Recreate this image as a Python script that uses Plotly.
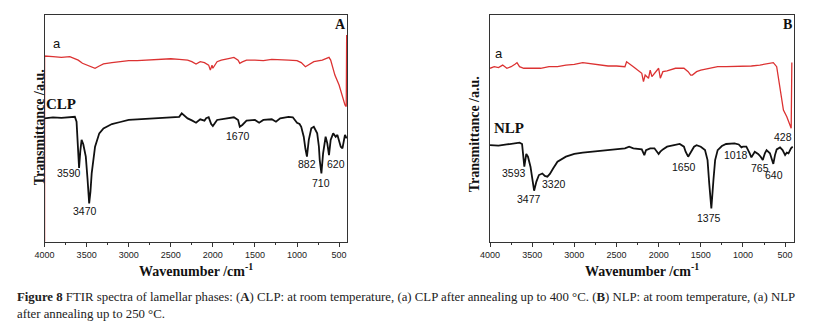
import plotly.graph_objects as go

# ---------------- Panel A (CLP) ----------------
clp_wn = [4000, 3900, 3800, 3700, 3640, 3620, 3600, 3590, 3575, 3560, 3540, 3510, 3490, 3470, 3455,
          3440, 3400, 3350, 3300, 3200, 3100, 3000, 2900, 2800, 2700, 2600, 2500, 2400, 2370, 2300,
          2250, 2200, 2150, 2100, 2080, 2050, 2020, 2000, 1950, 1900, 1800, 1750, 1700, 1680, 1650,
          1600, 1500, 1450, 1400, 1300, 1250, 1200, 1100, 1050, 1000, 970, 950, 920, 900, 882,
          860, 830, 800, 760, 740, 730, 710, 690, 660, 640, 620, 600, 570, 540, 520, 500, 480,
          460, 430, 410]
clp_t = [54.4, 54.8, 54.6, 55.1, 55.1, 52.9, 42.0, 32.5, 40.0, 44.9, 43.0, 37.5, 28.0, 16.9, 22.0,
         30.1, 41.9, 47.8, 50.0, 51.9, 52.8, 53.7, 54.0, 54.2, 54.4, 54.6, 54.8, 55.1, 56.6, 54.4,
         53.5, 52.5, 54.0, 53.4, 54.5, 54.9, 51.9, 51.0, 53.7, 54.0, 54.4, 54.9, 53.7, 50.7, 51.5,
         53.4, 53.7, 52.5, 53.7, 54.0, 52.9, 54.4, 55.1, 54.9, 52.5, 51.9, 50.7, 46.3, 41.0, 37.5,
         44.9, 50.0, 50.7, 47.8, 42.0, 36.0, 30.1, 39.0, 46.3, 43.4, 38.2, 44.9, 47.8, 46.3, 47.1,
         45.0, 41.9, 41.2, 47.1, 45.6]

clp_a_wn = [4000, 4000, 3900, 3800, 3700, 3650, 3600, 3550, 3500, 3450, 3400, 3350, 3300, 3200, 3100,
            3000, 2900, 2800, 2700, 2600, 2500, 2400, 2300, 2250, 2200, 2150, 2100, 2050, 2030, 2010,
            2000, 1950, 1900, 1800, 1750, 1700, 1680, 1650, 1600, 1500, 1400, 1300, 1200, 1100, 1000,
            950, 900, 850, 800, 700, 620, 600, 580, 550, 500, 460, 430, 415, 410]
clp_a_t = [0.0, 81.9, 81.6, 81.3, 81.6, 80.9, 80.1, 78.7, 77.9, 77.2, 76.5, 77.5, 78.4, 79.0, 79.4,
           79.9, 79.9, 80.1, 80.4, 80.4, 80.7, 80.4, 80.1, 79.4, 78.4, 79.4, 79.0, 77.9, 75.7, 77.9,
           76.5, 79.4, 80.1, 80.9, 81.3, 80.1, 78.7, 79.3, 80.1, 80.1, 79.9, 80.4, 80.1, 80.1, 79.9,
           79.0, 77.2, 78.4, 79.4, 80.1, 81.3, 80.1, 77.2, 73.5, 69.1, 64.0, 60.3, 59.6, 91.2]

# ---------------- Panel B (NLP) ----------------
nlp_wn = [4000, 3900, 3800, 3700, 3650, 3620, 3605, 3593, 3570, 3550, 3520, 3490, 3477, 3450, 3420,
          3380, 3350, 3320, 3290, 3250, 3200, 3100, 3000, 2900, 2800, 2700, 2600, 2500, 2400, 2350,
          2300, 2200, 2170, 2150, 2100, 2050, 2000, 1980, 1950, 1900, 1800, 1750, 1700, 1680, 1650,
          1620, 1580, 1550, 1500, 1450, 1420, 1400, 1375, 1350, 1330, 1300, 1250, 1200, 1100, 1050,
          1018, 1000, 960, 920, 900, 860, 820, 790, 765, 740, 720, 680, 660, 640, 620, 600, 560,
          530, 500, 480, 460, 430, 410]
nlp_t = [42.6, 42.4, 42.9, 43.4, 43.7, 43.1, 38.0, 33.1, 38.7, 37.5, 33.1, 25.0, 22.5, 26.5, 29.4,
         30.1, 29.0, 28.7, 29.9, 32.4, 35.3, 37.5, 38.7, 39.3, 39.7, 40.1, 40.4, 40.7, 41.2, 41.9,
         41.2, 40.7, 38.2, 40.4, 41.2, 41.2, 38.7, 39.7, 40.7, 41.9, 42.6, 43.1, 41.9, 39.7, 37.5,
         39.7, 41.9, 42.6, 41.9, 40.4, 36.0, 25.7, 14.7, 27.2, 36.0, 40.4, 42.2, 43.1, 43.4, 42.9,
         41.6, 41.9, 41.9, 39.0, 37.2, 39.7, 38.7, 37.5, 36.0, 39.0, 40.4, 39.0, 36.0, 34.3, 38.2,
         40.7, 41.6, 40.4, 38.2, 39.3, 39.0, 41.2, 41.9]

nlp_a_wn = [4000, 3950, 3900, 3850, 3800, 3750, 3700, 3680, 3650, 3600, 3500, 3400, 3300, 3200, 3100,
            3000, 2900, 2800, 2700, 2600, 2500, 2400, 2380, 2350, 2300, 2250, 2200, 2180, 2160, 2120,
            2100, 2080, 2050, 2000, 1980, 1950, 1900, 1800, 1700, 1650, 1620, 1600, 1550, 1500, 1400,
            1300, 1200, 1100, 1000, 900, 800, 700, 640, 600, 560, 520, 480, 460, 440, 428, 420]
nlp_a_t = [76.5, 77.2, 76.8, 77.9, 76.5, 77.2, 78.4, 79.0, 77.2, 76.5, 76.5, 76.5, 77.2, 77.2, 77.9,
           78.2, 79.0, 78.4, 77.9, 77.5, 77.5, 77.2, 79.4, 78.7, 77.2, 75.7, 74.3, 70.6, 73.5, 72.1,
           75.7, 72.8, 74.3, 76.5, 72.1, 75.0, 75.4, 76.5, 76.5, 75.0, 73.5, 73.5, 75.0, 75.7, 76.5,
           77.2, 77.2, 77.2, 77.5, 77.5, 77.9, 78.4, 79.0, 77.2, 66.9, 58.1, 55.1, 52.9, 50.7, 50.0, 79.0]

# peak labels: (text, wavenumber, transmittance)
labels_a = [("3590", 3707, 30.3), ("3470", 3519, 13.5), ("1670", 1701, 46.6),
            ("882", 879, 34.3), ("710", 715, 25.9), ("620", 539, 34.3)]
labels_b = [("3593", 3719, 30.3), ("3477", 3543, 18.8), ("3320", 3239, 25.4),
            ("1650", 1694, 32.9), ("1375", 1401, 10.4), ("1018", 1085, 38.2),
            ("765", 793, 32.5), ("640", 629, 29.4), ("428", 523, 46.2)]

RED = "#dc3232"
BLACK = "#111111"
W, H = 813, 327

fig = go.Figure()
fig.add_trace(go.Scatter(x=clp_a_wn, y=clp_a_t, mode="lines", line=dict(color=RED, width=1.3),
                         xaxis="x", yaxis="y", showlegend=False))
fig.add_trace(go.Scatter(x=clp_wn, y=clp_t, mode="lines", line=dict(color=BLACK, width=1.8),
                         xaxis="x", yaxis="y", showlegend=False))
fig.add_trace(go.Scatter(x=nlp_a_wn, y=nlp_a_t, mode="lines", line=dict(color=RED, width=1.3),
                         xaxis="x2", yaxis="y2", showlegend=False))
fig.add_trace(go.Scatter(x=nlp_wn, y=nlp_t, mode="lines", line=dict(color=BLACK, width=1.8),
                         xaxis="x2", yaxis="y2", showlegend=False))

ydom = [1 - 241.7 / H, 1 - 15 / H]
xax = dict(range=[4000, 400], showgrid=False, zeroline=False, showline=True, mirror=True,
           linecolor="#333333", linewidth=1.3, ticks="outside", ticklen=4, tickwidth=1,
           tickcolor="#333333", dtick=500, tick0=0,
           tickfont=dict(family="Liberation Sans, Arial", size=9, color="#222222"),
           minor=dict(ticks="outside", ticklen=2, dtick=250, tickcolor="#333333"))
yax = dict(range=[0, 100], showgrid=False, zeroline=False, showline=True, mirror=True,
           linecolor="#333333", linewidth=1.3, showticklabels=False, ticks="")

fig.update_layout(
    width=W, height=H, margin=dict(l=0, r=0, t=0, b=0),
    paper_bgcolor="white", plot_bgcolor="white",
    xaxis=dict(xax, domain=[35 / W, 341.7 / W], anchor="y"),
    yaxis=dict(yax, domain=ydom, anchor="x"),
    xaxis2=dict(xax, domain=[486 / W, 793.3 / W], anchor="y2"),
    yaxis2=dict(yax, domain=ydom, anchor="x2"),
)

ann = []
lab_font = dict(family="Liberation Sans, Arial", size=10.5, color="#111111")
for txt, wx, ty in labels_a:
    ann.append(dict(text=txt, x=wx, y=ty, xref="x", yref="y", showarrow=False, font=lab_font))
for txt, wx, ty in labels_b:
    ann.append(dict(text=txt, x=wx, y=ty, xref="x2", yref="y2", showarrow=False, font=lab_font))

serif_b = dict(family="Liberation Serif, Times New Roman", size=15, color="#111111")
title_font = dict(family="Liberation Serif", size=14, color="#111111")
ann += [
    dict(text="a", x=3848, y=87.6, xref="x", yref="y", showarrow=False,
         font=dict(family="Liberation Sans, Arial", size=13, color="#111111")),
    dict(text="a", x=3895, y=83.2, xref="x2", yref="y2", showarrow=False,
         font=dict(family="Liberation Sans, Arial", size=13, color="#111111")),
    dict(text="<b>CLP</b>", x=3800, y=60.7, xref="x", yref="y", showarrow=False, font=serif_b),
    dict(text="<b>NLP</b>", x=3778, y=50.1, xref="x2", yref="y2", showarrow=False, font=serif_b),
    dict(text="<b>A</b>", x=481, y=95.6, xref="x", yref="y", showarrow=False,
         font=dict(family="Liberation Serif", size=14, color="#111111")),
    dict(text="<b>B</b>", x=477, y=96.0, xref="x2", yref="y2", showarrow=False,
         font=dict(family="Liberation Serif", size=14, color="#111111")),
    # axis titles
    dict(text="<b>Wavenumber /cm<sup>-1</sup></b>", x=188 / W, y=1 - 259 / H, xref="paper", yref="paper",
         xanchor="center", yanchor="top", showarrow=False, font=title_font),
    dict(text="<b>Wavenumber /cm<sup>-1</sup></b>", x=640 / W, y=1 - 259 / H, xref="paper", yref="paper",
         xanchor="center", yanchor="top", showarrow=False, font=title_font),
    dict(text="<b>Transmittance /a.u.</b>", x=20 / W, y=1 - 127 / H, xref="paper", yref="paper",
         showarrow=False, textangle=-90, font=title_font),
    dict(text="<b>Transmittance /a.u.</b>", x=470 / W, y=1 - 134 / H, xref="paper", yref="paper",
         showarrow=False, textangle=-90, font=title_font),
    # caption
    dict(text="<b>Figure 8</b> FTIR spectra of lamellar phases: (<b>A</b>) CLP: at room temperature, (a) CLP after "
              "annealing up to 400 °C. (<b>B</b>) NLP: at room temperature, (a) NLP<br>after annealing up to 250 °C.",
         x=5 / W, y=1 - 288 / H, xref="paper", yref="paper", xanchor="left", yanchor="top", align="left",
         showarrow=False, font=dict(family="Liberation Serif", size=12.8, color="#222222")),
]
fig.update_layout(annotations=ann)

fig.write_html("out.html", config={"displayModeBar": False})

# remove the browser's default page margin so the figure sits at the window origin
with open("out.html", encoding="utf-8") as f:
    page = f.read()
page = page.replace("<head>", "<head><style>html,body{margin:0;padding:0;overflow:hidden;}</style>", 1)
with open("out.html", "w", encoding="utf-8") as f:
    f.write(page)
